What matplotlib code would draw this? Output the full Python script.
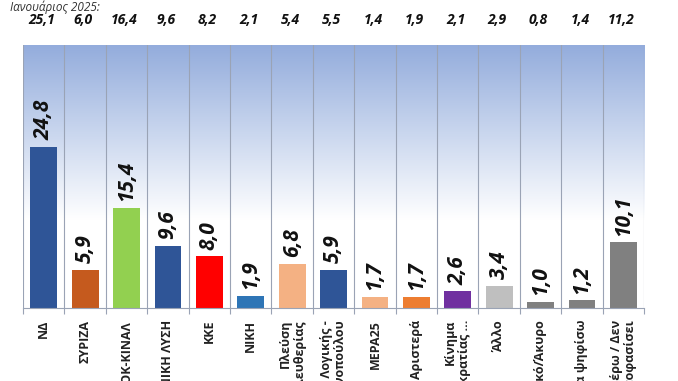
import numpy as np
import matplotlib
matplotlib.use("Agg")
from matplotlib import pyplot as plt
from matplotlib.colors import LinearSegmentedColormap

plt.rcParams['font.family'] = ['Open Sans', 'DejaVu Sans']

parties = ["ΝΔ", "ΣΥΡΙΖΑ", "ΠΑΣΟΚ-ΚΙΝΑΛ", "ΕΛΛΗΝΙΚΗ ΛΥΣΗ", "ΚΚΕ", "ΝΙΚΗ",
           "Πλεύση\nΕλευθερίας", "Φωνή Λογικής -\nΑφροδίτη Λατινοπούλου", "ΜΕΡΑ25",
           "Αριστερά", "Κίνημα\nΔημοκρατίας ...", "Άλλο", "Λευκό/Άκυρο",
           "Δεν θα ψηφίσω", "Δεν ξέρω / Δεν\nέχω αποφασίσει"]
values = [24.8, 5.9, 15.4, 9.6, 8.0, 1.9, 6.8, 5.9, 1.7, 1.7, 2.6, 3.4, 1.0, 1.2, 10.1]
jan_2025 = [25.1, 6.0, 16.4, 9.6, 8.2, 2.1, 5.4, 5.5, 1.4, 1.9, 2.1, 2.9, 0.8, 1.4, 11.2]
colors = ["#2F5597", "#C55A1E", "#92D050", "#2F5597", "#FF0000", "#2E75B6",
          "#F4B183", "#2F5597", "#F4B183", "#ED7D31", "#7030A0", "#BFBFBF",
          "#808080", "#808080", "#808080"]


def fmt(v):
    return f"{v:.1f}".replace('.', ',')


fig = plt.figure(figsize=(6.78, 3.81), dpi=100)
ax = fig.add_axes([0.034, 0.1916, 0.916, 0.6904])

n = len(parties)
x = np.arange(n)
ymax = 40.5

# gradient background
grad = np.linspace(0, 1, 256).reshape(-1, 1)
cmap = LinearSegmentedColormap.from_list("bg", ["#FFFFFF", "#FFFFFF", "#C9D6EE", "#93ACDC"])
ax.imshow(grad, aspect='auto', cmap=cmap, origin='lower',
          extent=[-0.5, n - 0.5, 0, ymax], zorder=0)

for b in np.arange(-0.5, n, 1):
    ax.axvline(b, color="#9AA3B5", lw=0.8, zorder=1)

ax.bar(x, values, width=0.65, color=colors, zorder=2)
for xi, v in zip(x, values):
    ax.text(xi, v + 1.0, fmt(v), rotation=90, ha='center', va='bottom',
            fontsize=15, fontweight='bold', fontstyle='italic', color='#111111')

ax.set_xlim(-0.5, n - 0.5)
ax.set_ylim(0, ymax)
ax.set_yticks([])
ax.set_xticks(x)
labels = ax.set_xticklabels(parties, rotation=90, fontsize=9, fontweight='bold',
                            color='#222222', linespacing=1.1)
for lab in labels:
    lab.set_multialignment('right')
ax.tick_params(axis='x', which='major', length=0, pad=8.5)
ax.set_xticks(np.arange(-0.5, n, 1), minor=True)
ax.tick_params(axis='x', which='minor', length=4, color='#9AA3B5', width=0.8)
for s in ['top', 'right', 'left']:
    ax.spines[s].set_visible(False)
ax.spines['bottom'].set_color('#9AA3B5')

# January 2025 comparison row
fig.text(0.015, 0.999, "Ιανουάριος 2025:", fontsize=8.5, fontstyle='italic',
         color='#333333', ha='left', va='top')
for xi, v in zip(x, jan_2025):
    ax.annotate(fmt(v), xy=(xi, 1), xycoords=('data', 'axes fraction'),
                xytext=(-1.5, 18), textcoords='offset points', ha='center', va='center',
                fontsize=10, fontweight='bold', fontstyle='italic', color='#111111',
                annotation_clip=False)

fig.savefig("out.png", dpi=100)
